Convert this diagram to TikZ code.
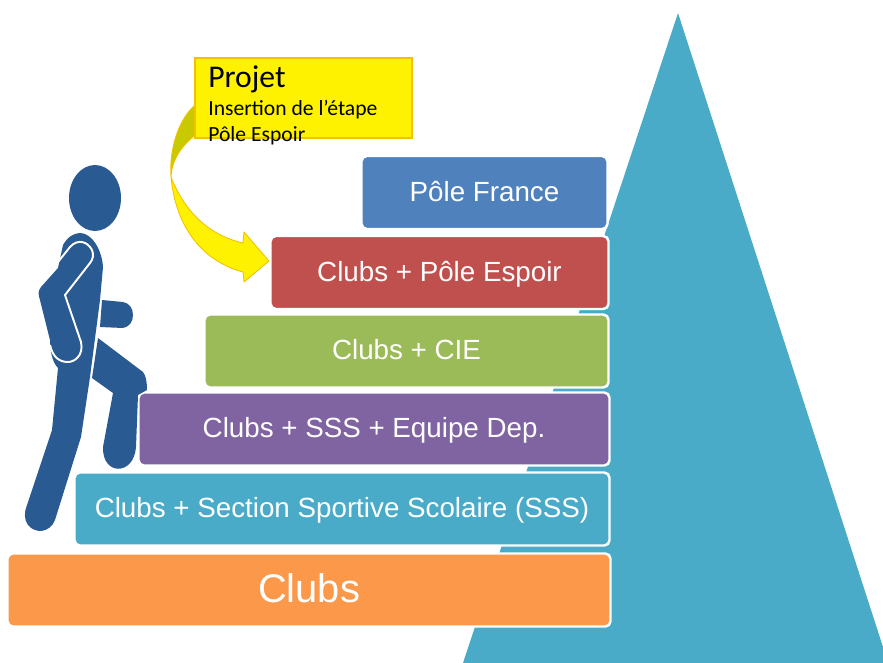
\documentclass[tikz,border=0pt]{standalone}
\usepackage{fontspec}
\setmainfont{Liberation Sans}
\newfontfamily\notefont{Carlito}
\usepackage{tikz}

\definecolor{peak}{HTML}{4AABC9}
\definecolor{walker}{HTML}{2A5A92}
\definecolor{stepblue}{HTML}{4F81BD}
\definecolor{stepred}{HTML}{C0504D}
\definecolor{stepgreen}{HTML}{9BBB59}
\definecolor{steppurple}{HTML}{8064A2}
\definecolor{steporange}{HTML}{FB984A}
\definecolor{noteedge}{HTML}{F2C200}
\definecolor{arrowback}{HTML}{C9C900}

\begin{document}
\begin{tikzpicture}[x=.02cm,y=-.02cm]

	\tikzstyle step box=[draw=white,line width=1.4pt,rounded corners=3pt,text=white,inner sep=0pt,text height=13pt,text depth=3pt,font=\fontsize{15.8}{18}\selectfont];
	\tikzstyle note text=[anchor=west,inner sep=0pt,text=black];
	\tikzstyle curve front=[fill=yellow,draw=noteedge,line width=.5pt,line join=round];
	\tikzstyle curve back=[fill=arrowback,draw=noteedge,line width=.5pt,line join=round];

	\useasboundingbox (0,0) rectangle (883,663);

	\fill[peak] (678,13) -- (883,647) -- (883,663) -- (463,663) -- cycle;

	\node[step box,fill=steporange,minimum width=603*.02cm,minimum height=73*.02cm,text height=16.4pt,text depth=2pt,font=\fontsize{22.7}{26}\selectfont] (clubs) at (309,590) {Clubs};
	\foreach \name/\cx/\cy/\w/\col/\txt in {
		sss/342/509/535/peak/Clubs + Section Sportive Scolaire (SSS),
		dep/374/429/471/steppurple/Clubs + SSS + Equipe Dep.,
		cie/406.5/351/404/stepgreen/Clubs + CIE,
		espoir/439.5/272.5/338/stepred/Clubs + Pôle Espoir,
		france/484.5/192.5/246/stepblue/Pôle France}
		\node[step box,fill=\col,minimum width=\w*.02cm,minimum height=73*.02cm] (\name) at (\cx,\cy) {\txt};

	% curved arrow, the back part goes under the note
	\draw[curve back] (195,105) .. controls (178,120) and (169,150) .. (171,177) .. controls (172,160) and (180,148) .. (195,135) -- cycle;
	\draw[curve front] (171,177) .. controls (176,230) and (205,262) .. (243,272) -- (244,282) -- (269,261) -- (244,232) -- (243,243) .. controls (212,236) and (186,215) .. (171,177) -- cycle;

	\node[draw=noteedge,fill=yellow,line width=.7pt,minimum width=217*.02cm,minimum height=80*.02cm,inner sep=0pt] (note) at (303.5,98) {};
	\node[note text,font=\notefont\fontsize{18}{20}\selectfont] (notetitle) at (208,79) {Projet};
	\node[note text,font=\notefont\fontsize{12.3}{14}\selectfont] (noteline) at (208,110) {Insertion de l’étape};
	\node[note text,font=\notefont\fontsize{12.3}{14}\selectfont] (noteend) at (208,136) {Pôle Espoir};

	% the walking figure
	\fill[walker] (95,198) ellipse (26 and 33);
	\fill[walker] (102,300) -- (123,302) .. controls (129,303) and (133,308) .. (133,315) .. controls (133,322) and (129,327) .. (123,328) -- (100,327) -- cycle;
	\fill[walker] (98,338) -- (143,372) .. controls (146,376) and (147,382) .. (147,390) -- (138,395) -- (136,447) .. controls (134,476) and (102,476) .. (103,447) -- (113,393) -- (92,378) -- cycle;
	\fill[walker] (80,233) .. controls (92,233) and (102,250) .. (103,267) -- (100,300) -- (90,377) -- (81,437) -- (55,520) .. controls (50,533) and (35,534) .. (28,525) .. controls (24,520) and (24,512) .. (27,505) -- (52,430) -- (58,368) .. controls (52,362) and (50,350) .. (50,340) -- (40,300) .. controls (38,294) and (38,291) .. (41,287) -- (58,268) -- (63,245) .. controls (67,238) and (73,233) .. (80,233) -- cycle;
	\draw[white,line width=1.1pt] (58,262) -- (70,247) .. controls (78,238) and (88,242) .. (92,250) .. controls (94,255) and (93,259) .. (90,263) -- (65,295) -- (81,342) .. controls (84,356) and (74,362) .. (68,362) .. controls (60,362) and (53,358) .. (50,345);

\end{tikzpicture}
\end{document}
